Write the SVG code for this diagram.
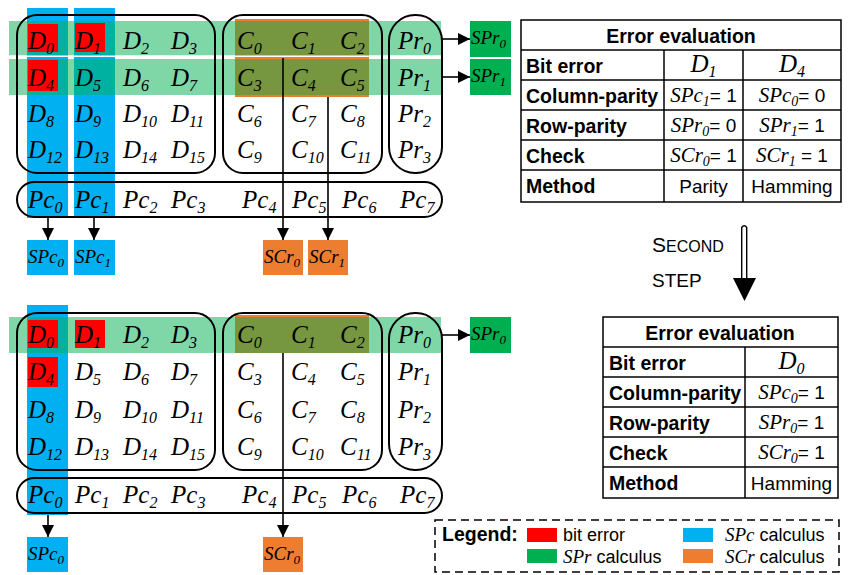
<svg xmlns="http://www.w3.org/2000/svg" width="856" height="575" viewBox="0 0 856 575">
  <style>
    .m { font-family: "Liberation Serif", serif; font-style: italic; font-size: 25px; fill: #000; }
    .s { font-size: 16px; }
    .bx { font-family: "Liberation Serif", serif; font-style: italic; font-size: 19px; fill: #000; }
    .bs { font-size: 13px; }
    .ti { font-family: "Liberation Serif", serif; font-style: italic; font-size: 21px; }
    .li { font-family: "Liberation Serif", serif; font-style: italic; font-size: 19px; }
    .ts { font-size: 14px; }
    .tb { font-family: "Liberation Sans", Arial, sans-serif; font-weight: bold; font-size: 19.5px; fill: #000; }
    .tr { font-family: "Liberation Sans", Arial, sans-serif; font-style: normal; font-size: 19px; fill: #000; }
    .lr { font-family: "Liberation Sans", Arial, sans-serif; font-size: 18px; fill: #000; }
    .frame { fill: none; stroke: #000; stroke-width: 2; }
    .cell { fill: none; stroke: #000; stroke-width: 1.5; }
    .wire { fill: none; stroke: #000; stroke-width: 1.6; }
    .blue { fill: #00B0F0; }
    .red { fill: #FF0000; }
    .green { fill: #00B050; }
    .band { fill: #00B050; fill-opacity: 0.5; }
    .orange { fill: #ED7D31; }
  </style>
  <defs>
    <marker id="arr" viewBox="0 0 12 12" markerWidth="12" markerHeight="12" refX="12" refY="6" orient="auto" markerUnits="userSpaceOnUse">
      <path d="M0,0 L12,6 L0,12 z" fill="#000"/>
    </marker>
  </defs>

  <!-- ===== First step ===== -->
  <g id="step1-highlights">
    <rect class="blue" x="27" y="8" width="41" height="210"/>
    <rect class="blue" x="74" y="8" width="41" height="210"/>
    <rect class="orange" x="235" y="19" width="134" height="78"/>
    <rect class="band" x="9" y="21" width="432" height="34.5"/>
    <rect fill="#fff" x="9" y="55.5" width="432" height="1.5"/>
    <rect class="band" x="9" y="59" width="432" height="36"/>
    <rect class="red" x="28" y="24" width="30" height="28"/>
    <rect class="red" x="75" y="23" width="30" height="29"/>
    <rect class="red" x="28" y="60" width="30" height="31"/>
  </g>

  <g id="step1-data">
    <rect class="frame" x="17" y="15" width="198" height="158" rx="20"/>
    <text class="m" x="28" y="49">D<tspan class="s" dy="5">0</tspan></text>
    <text class="m" x="75" y="49">D<tspan class="s" dy="5">1</tspan></text>
    <text class="m" x="123" y="49">D<tspan class="s" dy="5">2</tspan></text>
    <text class="m" x="171" y="49">D<tspan class="s" dy="5">3</tspan></text>
    <text class="m" x="28" y="86">D<tspan class="s" dy="5">4</tspan></text>
    <text class="m" x="75" y="86">D<tspan class="s" dy="5">5</tspan></text>
    <text class="m" x="123" y="86">D<tspan class="s" dy="5">6</tspan></text>
    <text class="m" x="171" y="86">D<tspan class="s" dy="5">7</tspan></text>
    <text class="m" x="28" y="122">D<tspan class="s" dy="5">8</tspan></text>
    <text class="m" x="75" y="122">D<tspan class="s" dy="5">9</tspan></text>
    <text class="m" x="123" y="122">D<tspan class="s" dy="5">10</tspan></text>
    <text class="m" x="171" y="122">D<tspan class="s" dy="5">11</tspan></text>
    <text class="m" x="28" y="158">D<tspan class="s" dy="5">12</tspan></text>
    <text class="m" x="75" y="158">D<tspan class="s" dy="5">13</tspan></text>
    <text class="m" x="123" y="158">D<tspan class="s" dy="5">14</tspan></text>
    <text class="m" x="171" y="158">D<tspan class="s" dy="5">15</tspan></text>
  </g>

  <g id="step1-check">
    <rect class="frame" x="223" y="15" width="159" height="158" rx="20"/>
    <text class="m" x="237" y="49">C<tspan class="s" dy="5">0</tspan></text>
    <text class="m" x="291" y="49">C<tspan class="s" dy="5">1</tspan></text>
    <text class="m" x="340" y="49">C<tspan class="s" dy="5">2</tspan></text>
    <text class="m" x="237" y="86">C<tspan class="s" dy="5">3</tspan></text>
    <text class="m" x="291" y="86">C<tspan class="s" dy="5">4</tspan></text>
    <text class="m" x="340" y="86">C<tspan class="s" dy="5">5</tspan></text>
    <text class="m" x="237" y="122">C<tspan class="s" dy="5">6</tspan></text>
    <text class="m" x="291" y="122">C<tspan class="s" dy="5">7</tspan></text>
    <text class="m" x="340" y="122">C<tspan class="s" dy="5">8</tspan></text>
    <text class="m" x="237" y="158">C<tspan class="s" dy="5">9</tspan></text>
    <text class="m" x="291" y="158">C<tspan class="s" dy="5">10</tspan></text>
    <text class="m" x="340" y="158">C<tspan class="s" dy="5">11</tspan></text>
  </g>

  <g id="step1-rowparity">
    <rect class="frame" x="389" y="15" width="53" height="158" rx="26"/>
    <text class="m" x="398" y="49">Pr<tspan class="s" dy="5">0</tspan></text>
    <text class="m" x="398" y="86">Pr<tspan class="s" dy="5">1</tspan></text>
    <text class="m" x="398" y="122">Pr<tspan class="s" dy="5">2</tspan></text>
    <text class="m" x="398" y="158">Pr<tspan class="s" dy="5">3</tspan></text>
  </g>

  <g id="step1-colparity">
    <rect class="frame" x="17" y="182" width="425" height="35" rx="17.5"/>
    <text class="m" x="28" y="208">Pc<tspan class="s" dy="5">0</tspan></text>
    <text class="m" x="75" y="208">Pc<tspan class="s" dy="5">1</tspan></text>
    <text class="m" x="123" y="208">Pc<tspan class="s" dy="5">2</tspan></text>
    <text class="m" x="171" y="208">Pc<tspan class="s" dy="5">3</tspan></text>
    <text class="m" x="242" y="208">Pc<tspan class="s" dy="5">4</tspan></text>
    <text class="m" x="292" y="208">Pc<tspan class="s" dy="5">5</tspan></text>
    <text class="m" x="342" y="208">Pc<tspan class="s" dy="5">6</tspan></text>
    <text class="m" x="400" y="208">Pc<tspan class="s" dy="5">7</tspan></text>
  </g>

  <g id="step1-syndromes">
    <rect class="green" x="470" y="21" width="41" height="36"/>
    <text class="bx" x="471" y="44">SPr<tspan class="bs" dy="4">0</tspan></text>
    <rect class="green" x="470" y="59" width="41" height="36"/>
    <text class="bx" x="471" y="82">SPr<tspan class="bs" dy="4">1</tspan></text>
    <rect class="blue" x="27" y="240" width="41" height="35"/>
    <text class="bx" x="28" y="263">SPc<tspan class="bs" dy="4">0</tspan></text>
    <rect class="blue" x="74" y="240" width="41" height="35"/>
    <text class="bx" x="75" y="263">SPc<tspan class="bs" dy="4">1</tspan></text>
    <rect class="orange" x="263" y="240" width="40" height="35"/>
    <text class="bx" x="264" y="263">SCr<tspan class="bs" dy="4">0</tspan></text>
    <rect class="orange" x="308" y="240" width="40" height="35"/>
    <text class="bx" x="309" y="263">SCr<tspan class="bs" dy="4">1</tspan></text>
  </g>

  <!-- ===== Second step ===== -->
  <g id="step2-highlights">
    <rect class="blue" x="27" y="305" width="41" height="210"/>
    <rect class="orange" x="235" y="315" width="134" height="38"/>
    <rect class="band" x="9" y="317" width="432" height="36"/>
    <rect class="red" x="28" y="320" width="30" height="28"/>
    <rect class="red" x="75" y="320" width="30" height="28"/>
    <rect class="red" x="28" y="357" width="30" height="30"/>
  </g>

  <g id="step2-data">
    <rect class="frame" x="17" y="313" width="198" height="157" rx="20"/>
    <text class="m" x="28" y="343">D<tspan class="s" dy="5">0</tspan></text>
    <text class="m" x="75" y="343">D<tspan class="s" dy="5">1</tspan></text>
    <text class="m" x="123" y="343">D<tspan class="s" dy="5">2</tspan></text>
    <text class="m" x="171" y="343">D<tspan class="s" dy="5">3</tspan></text>
    <text class="m" x="28" y="380">D<tspan class="s" dy="5">4</tspan></text>
    <text class="m" x="75" y="380">D<tspan class="s" dy="5">5</tspan></text>
    <text class="m" x="123" y="380">D<tspan class="s" dy="5">6</tspan></text>
    <text class="m" x="171" y="380">D<tspan class="s" dy="5">7</tspan></text>
    <text class="m" x="28" y="418">D<tspan class="s" dy="5">8</tspan></text>
    <text class="m" x="75" y="418">D<tspan class="s" dy="5">9</tspan></text>
    <text class="m" x="123" y="418">D<tspan class="s" dy="5">10</tspan></text>
    <text class="m" x="171" y="418">D<tspan class="s" dy="5">11</tspan></text>
    <text class="m" x="28" y="455">D<tspan class="s" dy="5">12</tspan></text>
    <text class="m" x="75" y="455">D<tspan class="s" dy="5">13</tspan></text>
    <text class="m" x="123" y="455">D<tspan class="s" dy="5">14</tspan></text>
    <text class="m" x="171" y="455">D<tspan class="s" dy="5">15</tspan></text>
  </g>

  <g id="step2-check">
    <rect class="frame" x="223" y="313" width="159" height="157" rx="20"/>
    <text class="m" x="237" y="343">C<tspan class="s" dy="5">0</tspan></text>
    <text class="m" x="291" y="343">C<tspan class="s" dy="5">1</tspan></text>
    <text class="m" x="340" y="343">C<tspan class="s" dy="5">2</tspan></text>
    <text class="m" x="237" y="380">C<tspan class="s" dy="5">3</tspan></text>
    <text class="m" x="291" y="380">C<tspan class="s" dy="5">4</tspan></text>
    <text class="m" x="340" y="380">C<tspan class="s" dy="5">5</tspan></text>
    <text class="m" x="237" y="418">C<tspan class="s" dy="5">6</tspan></text>
    <text class="m" x="291" y="418">C<tspan class="s" dy="5">7</tspan></text>
    <text class="m" x="340" y="418">C<tspan class="s" dy="5">8</tspan></text>
    <text class="m" x="237" y="455">C<tspan class="s" dy="5">9</tspan></text>
    <text class="m" x="291" y="455">C<tspan class="s" dy="5">10</tspan></text>
    <text class="m" x="340" y="455">C<tspan class="s" dy="5">11</tspan></text>
  </g>

  <g id="step2-rowparity">
    <rect class="frame" x="389" y="313" width="53" height="157" rx="26"/>
    <text class="m" x="398" y="343">Pr<tspan class="s" dy="5">0</tspan></text>
    <text class="m" x="398" y="380">Pr<tspan class="s" dy="5">1</tspan></text>
    <text class="m" x="398" y="418">Pr<tspan class="s" dy="5">2</tspan></text>
    <text class="m" x="398" y="455">Pr<tspan class="s" dy="5">3</tspan></text>
  </g>

  <g id="step2-colparity">
    <rect class="frame" x="17" y="478" width="425" height="35" rx="17.5"/>
    <text class="m" x="28" y="503">Pc<tspan class="s" dy="5">0</tspan></text>
    <text class="m" x="75" y="503">Pc<tspan class="s" dy="5">1</tspan></text>
    <text class="m" x="123" y="503">Pc<tspan class="s" dy="5">2</tspan></text>
    <text class="m" x="171" y="503">Pc<tspan class="s" dy="5">3</tspan></text>
    <text class="m" x="242" y="503">Pc<tspan class="s" dy="5">4</tspan></text>
    <text class="m" x="292" y="503">Pc<tspan class="s" dy="5">5</tspan></text>
    <text class="m" x="342" y="503">Pc<tspan class="s" dy="5">6</tspan></text>
    <text class="m" x="400" y="503">Pc<tspan class="s" dy="5">7</tspan></text>
  </g>

  <g id="step2-syndromes">
    <rect class="green" x="470" y="317" width="41" height="36"/>
    <text class="bx" x="471" y="340">SPr<tspan class="bs" dy="4">0</tspan></text>
    <rect class="blue" x="27" y="537" width="41" height="35"/>
    <text class="bx" x="28" y="560">SPc<tspan class="bs" dy="4">0</tspan></text>
    <rect class="orange" x="263" y="537" width="40" height="35"/>
    <text class="bx" x="264" y="560">SCr<tspan class="bs" dy="4">0</tspan></text>
  </g>

  <!-- connectors -->
  <g id="connectors">
    <line class="wire" x1="442" y1="39" x2="470" y2="39" marker-end="url(#arr)"/>
    <line class="wire" x1="442" y1="77" x2="470" y2="77" marker-end="url(#arr)"/>
    <line class="wire" x1="48" y1="218" x2="48" y2="240" marker-end="url(#arr)"/>
    <line class="wire" x1="94" y1="218" x2="94" y2="240" marker-end="url(#arr)"/>
    <line class="wire" x1="283" y1="58" x2="283" y2="240" marker-end="url(#arr)"/>
    <line class="wire" x1="328" y1="97" x2="328" y2="240" marker-end="url(#arr)"/>
    <line class="wire" x1="442" y1="335" x2="470" y2="335" marker-end="url(#arr)"/>
    <line class="wire" x1="48" y1="515" x2="48" y2="537" marker-end="url(#arr)"/>
    <line class="wire" x1="283" y1="353" x2="283" y2="537" marker-end="url(#arr)"/>
  </g>

  <!-- first evaluation table -->
  <g id="table1">
    <rect class="cell" x="521" y="20" width="320" height="182"/>
    <line class="cell" x1="521" y1="50" x2="841" y2="50"/>
    <line class="cell" x1="521" y1="80" x2="841" y2="80"/>
    <line class="cell" x1="521" y1="110" x2="841" y2="110"/>
    <line class="cell" x1="521" y1="140" x2="841" y2="140"/>
    <line class="cell" x1="521" y1="170" x2="841" y2="170"/>
    <line class="cell" x1="664" y1="50" x2="664" y2="202"/>
    <line class="cell" x1="743" y1="50" x2="743" y2="202"/>
    <text class="tb" x="681" y="43" text-anchor="middle">Error evaluation</text>
    <text class="tb" x="526" y="73">Bit error</text>
    <text class="tb" x="526" y="103">Column-parity</text>
    <text class="tb" x="526" y="133">Row-parity</text>
    <text class="tb" x="526" y="163">Check</text>
    <text class="tb" x="526" y="193">Method</text>
    <text class="m" x="703.5" y="72" text-anchor="middle">D<tspan class="s" dy="5">1</tspan></text>
    <text class="m" x="792" y="72" text-anchor="middle">D<tspan class="s" dy="5">4</tspan></text>
    <text x="703.5" y="102" text-anchor="middle"><tspan class="ti">SPc</tspan><tspan class="ti ts" dy="4">1</tspan><tspan class="tr" dy="-4">= 1</tspan></text>
    <text x="792" y="102" text-anchor="middle"><tspan class="ti">SPc</tspan><tspan class="ti ts" dy="4">0</tspan><tspan class="tr" dy="-4">= 0</tspan></text>
    <text x="703.5" y="132" text-anchor="middle"><tspan class="ti">SPr</tspan><tspan class="ti ts" dy="4">0</tspan><tspan class="tr" dy="-4">= 0</tspan></text>
    <text x="792" y="132" text-anchor="middle"><tspan class="ti">SPr</tspan><tspan class="ti ts" dy="4">1</tspan><tspan class="tr" dy="-4">= 1</tspan></text>
    <text x="703.5" y="162" text-anchor="middle"><tspan class="ti">SCr</tspan><tspan class="ti ts" dy="4">0</tspan><tspan class="tr" dy="-4">= 1</tspan></text>
    <text x="792" y="162" text-anchor="middle"><tspan class="ti">SCr</tspan><tspan class="ti ts" dy="4">1</tspan><tspan class="tr" dy="-4"> = 1</tspan></text>
    <text class="tr" x="703.5" y="193" text-anchor="middle">Parity</text>
    <text class="tr" x="792" y="193" text-anchor="middle">Hamming</text>
  </g>

  <!-- step arrow -->
  <g id="second-step">
    <path d="M741.7,278 L741.7,227.5 Q744.2,224 746.7,227.5 L746.7,278" fill="#fff" stroke="#000" stroke-width="1.4"/>
    <path d="M733,278 L756,278 L744.5,301 z" fill="#000"/>
    <text class="tr" x="652" y="252"><tspan font-size="21">S</tspan><tspan font-size="16">ECOND</tspan></text>
    <text class="tr" x="652" y="287" font-size="16">STEP</text>
  </g>

  <!-- second evaluation table -->
  <g id="table2">
    <rect class="cell" x="603" y="317" width="235" height="181"/>
    <line class="cell" x1="603" y1="347" x2="838" y2="347"/>
    <line class="cell" x1="603" y1="377" x2="838" y2="377"/>
    <line class="cell" x1="603" y1="407" x2="838" y2="407"/>
    <line class="cell" x1="603" y1="437" x2="838" y2="437"/>
    <line class="cell" x1="603" y1="467" x2="838" y2="467"/>
    <line class="cell" x1="745" y1="347" x2="745" y2="498"/>
    <text class="tb" x="720" y="340" text-anchor="middle">Error evaluation</text>
    <text class="tb" x="609" y="370">Bit error</text>
    <text class="tb" x="609" y="400">Column-parity</text>
    <text class="tb" x="609" y="430">Row-parity</text>
    <text class="tb" x="609" y="460">Check</text>
    <text class="tb" x="609" y="490">Method</text>
    <text class="m" x="791.5" y="369" text-anchor="middle">D<tspan class="s" dy="5">0</tspan></text>
    <text x="791.5" y="399" text-anchor="middle"><tspan class="ti">SPc</tspan><tspan class="ti ts" dy="4">0</tspan><tspan class="tr" dy="-4">= 1</tspan></text>
    <text x="791.5" y="429" text-anchor="middle"><tspan class="ti">SPr</tspan><tspan class="ti ts" dy="4">0</tspan><tspan class="tr" dy="-4">= 1</tspan></text>
    <text x="791.5" y="459" text-anchor="middle"><tspan class="ti">SCr</tspan><tspan class="ti ts" dy="4">0</tspan><tspan class="tr" dy="-4">= 1</tspan></text>
    <text class="tr" x="791.5" y="490" text-anchor="middle">Hamming</text>
  </g>

  <!-- legend -->
  <g id="legend">
    <rect x="435" y="520" width="404" height="52" fill="none" stroke="#000" stroke-width="1.5" stroke-dasharray="8 5"/>
    <text class="tb" x="442" y="541">Legend:</text>
    <rect class="red" x="527" y="528" width="30" height="14"/>
    <text class="lr" x="563" y="541">bit error</text>
    <rect class="green" x="527" y="549" width="30" height="14"/>
    <text x="563" y="563"><tspan class="li">SPr</tspan><tspan class="lr"> calculus</tspan></text>
    <rect class="blue" x="683" y="528" width="30" height="14"/>
    <text x="725" y="541"><tspan class="li">SPc</tspan><tspan class="lr"> calculus</tspan></text>
    <rect class="orange" x="683" y="549" width="30" height="14"/>
    <text x="725" y="563"><tspan class="li">SCr</tspan><tspan class="lr"> calculus</tspan></text>
  </g>
</svg>
